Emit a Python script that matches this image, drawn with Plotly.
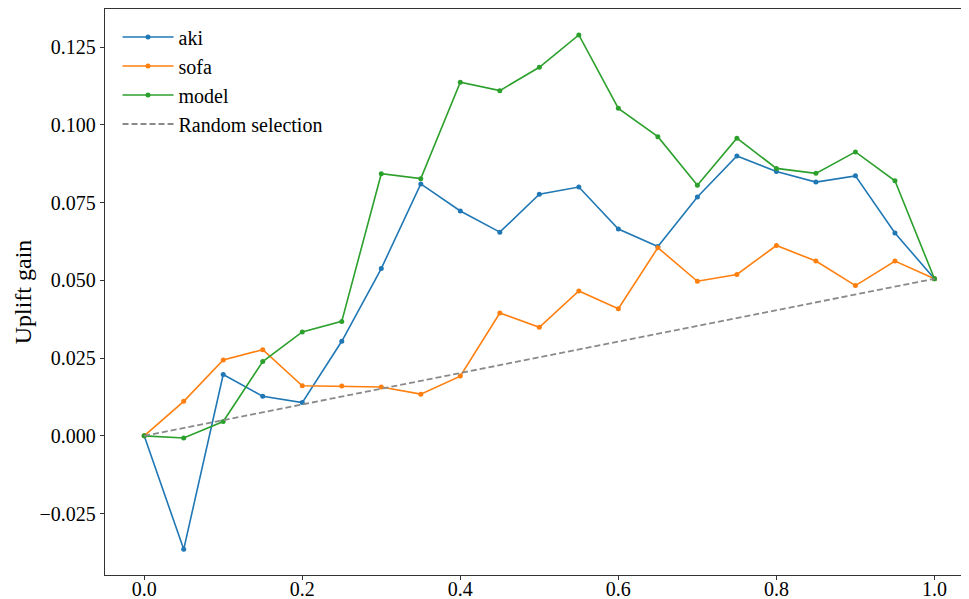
import plotly.graph_objects as go

x_vals = [0.0, 0.05, 0.1, 0.15, 0.2, 0.25, 0.3, 0.35, 0.4, 0.45, 0.5,
          0.55, 0.6, 0.65, 0.7, 0.75, 0.8, 0.85, 0.9, 0.95, 1.0]
aki = [0.0, -0.0365, 0.0197, 0.0127, 0.0107, 0.0304, 0.0538, 0.0810, 0.0723, 0.0655, 0.0777,
       0.0800, 0.0665, 0.0609, 0.0768, 0.0900, 0.0850, 0.0816, 0.0836, 0.0652, 0.0505]
sofa = [0.0, 0.0111, 0.0244, 0.0277, 0.0161, 0.0160, 0.0157, 0.0134, 0.0192, 0.0395, 0.0349,
        0.0466, 0.0409, 0.0605, 0.0497, 0.0519, 0.0612, 0.0562, 0.0483, 0.0562, 0.0505]
model = [0.0, -0.0007, 0.0046, 0.0239, 0.0334, 0.0368, 0.0843, 0.0827, 0.1137, 0.1110, 0.1185,
         0.1289, 0.1053, 0.0962, 0.0806, 0.0957, 0.0860, 0.0844, 0.0913, 0.0820, 0.0505]
random_x = [0.0, 1.0]
random_y = [0.0, 0.0505]

x_ticks = [0.0, 0.2, 0.4, 0.6, 0.8, 1.0]
y_ticks = [-0.025, 0.0, 0.025, 0.05, 0.075, 0.1, 0.125]

FONT = "Liberation Serif, Times New Roman, serif"

fig = go.Figure()
for name, ys, color in [("aki", aki, "#1f77b4"), ("sofa", sofa, "#ff7f0e"), ("model", model, "#2ca02c")]:
    fig.add_trace(go.Scatter(x=x_vals, y=ys, name=name, mode="lines+markers",
                             line=dict(color=color, width=1.6),
                             marker=dict(color=color, size=5)))
fig.add_trace(go.Scatter(x=random_x, y=random_y, name="Random selection", mode="lines",
                         line=dict(color="#8a8a8a", width=1.8, dash="6px,3px")))

fig.update_layout(
    width=961, height=591,
    margin=dict(l=97, r=0, t=1, b=24),
    paper_bgcolor="white", plot_bgcolor="white",
    font=dict(family=FONT, size=20, color="black"),
    showlegend=True,
    legend=dict(x=0.0145, y=0.985, xanchor="left", yanchor="top", itemwidth=51,
                bgcolor="rgba(0,0,0,0)", font=dict(size=20), tracegroupgap=0),
    xaxis=dict(range=[-0.0496, 1.0437], tickvals=x_ticks, tickformat=".1f",
               showgrid=False, zeroline=False, showline=True, linecolor="#333",
               linewidth=1.3, mirror=True, ticks="outside", ticklen=4, tickcolor="#333",
               automargin=False, ticklabelstandoff=-8),
    yaxis=dict(range=[-0.04475, 0.13725], tickvals=y_ticks, tickformat=".3f",
               showgrid=False, zeroline=False, showline=True, linecolor="#333",
               linewidth=1.3, mirror=False, ticks="outside", ticklen=4, tickcolor="#333",
               automargin=False,
               title=dict(text="Uplift gain", standoff=1)),
)

fig.write_html("out.html")
